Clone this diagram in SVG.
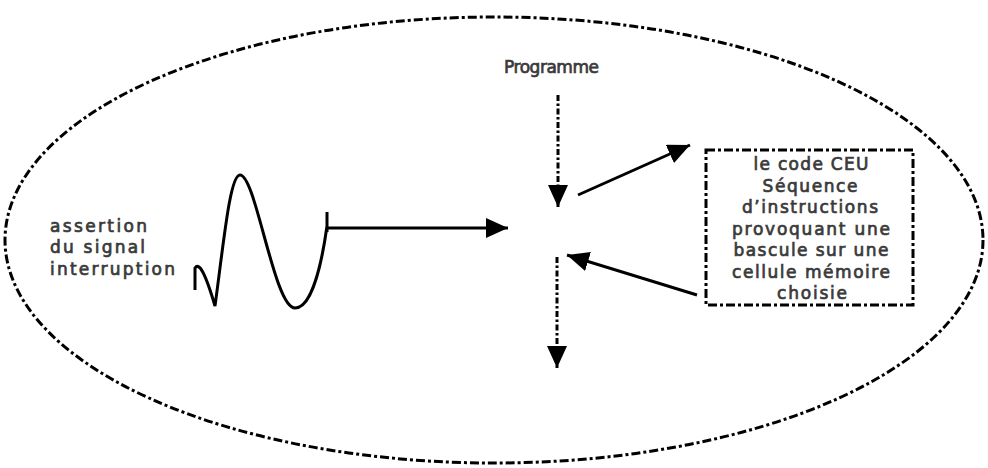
<svg xmlns="http://www.w3.org/2000/svg" width="988" height="468" viewBox="0 0 988 468">
<style>
.dd{fill:none;stroke:#000;stroke-width:3;stroke-dasharray:9 3 3 3}
.vd{fill:none;stroke:#000;stroke-width:3;stroke-dasharray:6 2.5 2.5 2.5}
.sl{fill:none;stroke:#000;stroke-width:3}
.t{font-family:"DejaVu Sans",Verdana,sans-serif;font-size:17px;fill:#3a3a3a;stroke:#3a3a3a;stroke-width:0.7}
.tc{text-anchor:middle}
</style>
<defs>
<marker id="ah" viewBox="0 0 22 20" refX="22" refY="10" markerWidth="22" markerHeight="20" markerUnits="userSpaceOnUse" orient="auto">
<path d="M0,0 L22,10 L0,20 z" fill="#000"/>
</marker>
</defs>
<g id="boundary">
<ellipse class="dd" cx="494" cy="240" rx="489" ry="223"/>
</g>
<g id="signal">
<text class="t" x="50" y="232" font-size="18" textLength="97" lengthAdjust="spacing">assertion</text>
<text class="t" x="50" y="253" font-size="18" textLength="95" lengthAdjust="spacing">du signal</text>
<text class="t" x="50" y="275" font-size="18" textLength="125" lengthAdjust="spacing">interruption</text>
<path class="sl" d="M195,290 L195,268 C199,262 205,272 215,306 C224,240 230,175 240,175 C256,175 274,308 295,308 C312,308 322,262 327,226 M327,212 L327,232"/>
</g>
<g id="programme">
<text class="t" x="504" y="73" font-size="16" textLength="95" lengthAdjust="spacing">Programme</text>
</g>
<g id="ceu">
<rect class="dd" x="706" y="150" width="207" height="155" stroke-width="3.5"/>
<text class="t tc" x="811" y="170" textLength="115" lengthAdjust="spacing">le code CEU</text>
<text class="t tc" x="810" y="191.5" textLength="95" lengthAdjust="spacing">Séquence</text>
<text class="t tc" x="810" y="213" textLength="136" lengthAdjust="spacing">d’instructions</text>
<text class="t tc" x="811" y="234.5" textLength="158" lengthAdjust="spacing">provoquant une</text>
<text class="t tc" x="811" y="256" textLength="155" lengthAdjust="spacing">bascule sur une</text>
<text class="t tc" x="811" y="277.5" textLength="158" lengthAdjust="spacing">cellule mémoire</text>
<text class="t tc" x="812" y="299" textLength="70" lengthAdjust="spacing">choisie</text>
</g>
<g id="connectors">
<path class="sl" d="M327,228 L508,228" marker-end="url(#ah)"/>
<path class="vd" d="M558,95 L558,207" marker-end="url(#ah)"/>
<path class="sl" d="M578,195 L690,145" marker-end="url(#ah)"/>
<path class="sl" d="M697,295 L567,255" marker-end="url(#ah)"/>
<path class="vd" d="M557,257 L557,368" marker-end="url(#ah)"/>
</g>
</svg>
